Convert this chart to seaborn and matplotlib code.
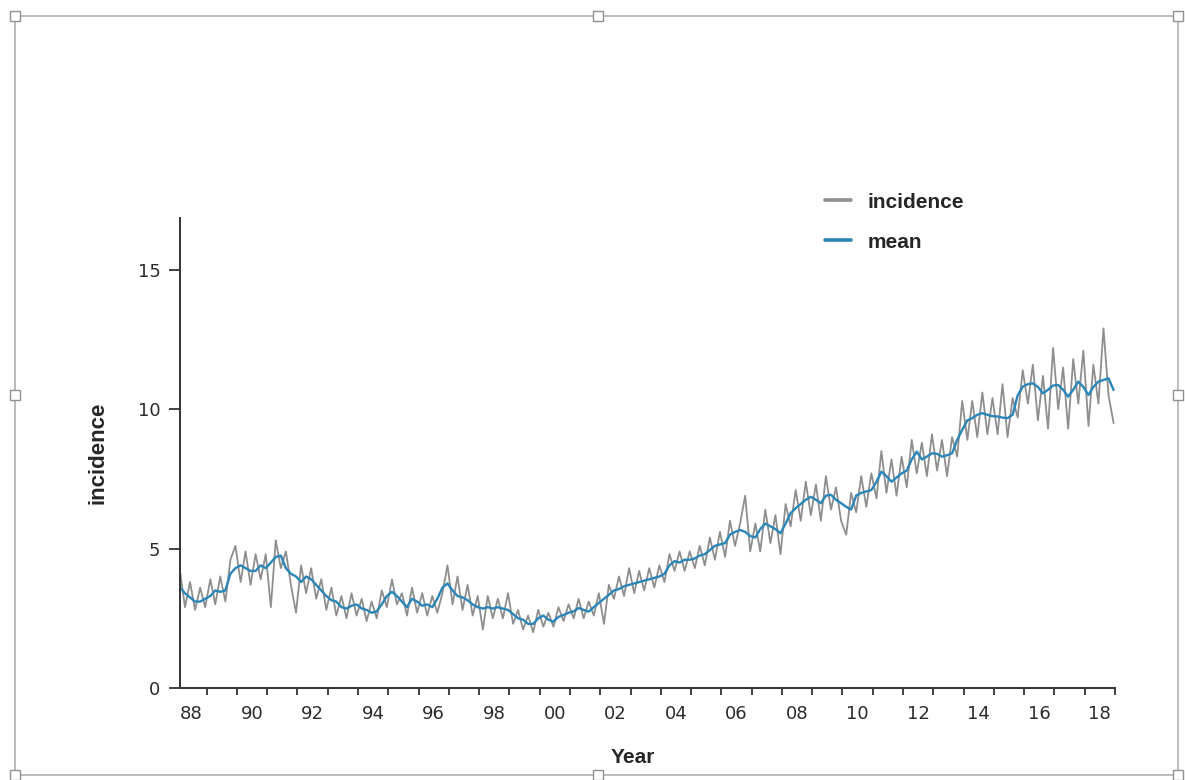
import numpy as np
import pandas as pd
import matplotlib.pyplot as plt
import matplotlib.dates as mdates
from matplotlib.patches import Rectangle
from matplotlib.lines import Line2D
import seaborn as sns

# bimonthly readings, Feb 1988 .. Dec 2018 (6 values per year)
incidence = [
    4.2, 2.9, 3.8, 2.8, 3.6, 2.9,    # 1988
    3.9, 3.0, 4.0, 3.1, 4.6, 5.1,    # 1989
    3.8, 4.9, 3.7, 4.8, 3.9, 4.8,    # 1990
    2.9, 5.3, 4.3, 4.9, 3.7, 2.7,    # 1991
    4.4, 3.4, 4.3, 3.2, 3.9, 2.8,    # 1992
    3.6, 2.6, 3.3, 2.5, 3.4, 2.6,    # 1993
    3.2, 2.4, 3.1, 2.5, 3.5, 2.9,    # 1994
    3.9, 3.0, 3.4, 2.6, 3.6, 2.7,    # 1995
    3.4, 2.6, 3.3, 2.7, 3.4, 4.4,    # 1996
    3.0, 4.0, 2.8, 3.7, 2.6, 3.3,    # 1997
    2.1, 3.3, 2.5, 3.2, 2.5, 3.4,    # 1998
    2.3, 2.8, 2.1, 2.6, 2.0, 2.8,    # 1999
    2.2, 2.7, 2.2, 2.9, 2.4, 3.0,    # 2000
    2.5, 3.2, 2.5, 3.1, 2.6, 3.4,    # 2001
    2.3, 3.7, 3.2, 4.0, 3.3, 4.3,    # 2002
    3.4, 4.2, 3.5, 4.3, 3.6, 4.4,    # 2003
    3.8, 4.8, 4.2, 4.9, 4.2, 4.9,    # 2004
    4.3, 5.1, 4.4, 5.4, 4.6, 5.6,    # 2005
    4.7, 6.0, 5.1, 5.9, 6.9, 4.9,    # 2006
    5.9, 4.9, 6.4, 5.2, 6.2, 4.8,    # 2007
    6.6, 5.8, 7.1, 6.0, 7.4, 6.2,    # 2008
    7.3, 6.0, 7.6, 6.4, 7.2, 6.0,    # 2009
    5.5, 7.0, 6.3, 7.6, 6.5, 7.7,    # 2010
    6.8, 8.5, 7.0, 8.2, 6.9, 8.3,    # 2011
    7.2, 8.9, 7.7, 8.8, 7.6, 9.1,    # 2012
    7.8, 8.9, 7.6, 9.0, 8.3, 10.3,   # 2013
    8.9, 10.3, 9.0, 10.6, 9.1, 10.4, # 2014
    9.1, 10.9, 9.0, 10.4, 9.7, 11.4, # 2015
    10.2, 11.6, 9.6, 11.2, 9.3, 12.2,  # 2016
    10.0, 11.5, 9.3, 11.8, 10.2, 12.1, # 2017
    9.4, 11.6, 10.2, 12.9, 10.5, 9.5,  # 2018
]

mean = [
    3.6, 3.4, 3.25, 3.1, 3.1, 3.2,
    3.3, 3.5, 3.45, 3.5, 4.1, 4.3,
    4.4, 4.3, 4.2, 4.2, 4.4, 4.3,
    4.5, 4.7, 4.75, 4.3, 4.1, 4.0,
    3.8, 4.0, 3.9, 3.7, 3.5, 3.3,
    3.15, 3.1, 2.9, 2.85, 2.95, 3.0,
    2.85, 2.8, 2.7, 2.75, 3.0, 3.3,
    3.45, 3.3, 3.1, 2.9, 3.2, 3.1,
    2.95, 3.0, 2.9, 3.2, 3.6, 3.75,
    3.5, 3.3, 3.25, 3.15, 3.0, 2.9,
    2.85, 2.9, 2.85, 2.9, 2.85, 2.8,
    2.65, 2.5, 2.45, 2.3, 2.3, 2.5,
    2.6, 2.45, 2.38, 2.55, 2.62, 2.7,
    2.75, 2.87, 2.8, 2.74, 2.9, 3.05,
    3.2, 3.34, 3.5, 3.55, 3.65, 3.7,
    3.75, 3.8, 3.85, 3.9, 3.95, 4.0,
    4.1, 4.4, 4.55, 4.5, 4.6, 4.6,
    4.65, 4.75, 4.8, 4.95, 5.1, 5.15,
    5.2, 5.5, 5.6, 5.67, 5.6, 5.45,
    5.4, 5.7, 5.9, 5.8, 5.7, 5.55,
    5.9, 6.27, 6.45, 6.6, 6.75, 6.86,
    6.75, 6.63, 6.9, 6.93, 6.75, 6.63,
    6.5, 6.4, 6.9, 7.0, 7.05, 7.1,
    7.4, 7.76, 7.6, 7.4, 7.55, 7.7,
    7.8, 8.2, 8.48, 8.2, 8.3, 8.42,
    8.4, 8.3, 8.35, 8.42, 8.9, 9.26,
    9.6, 9.68, 9.8, 9.86, 9.8, 9.75,
    9.74, 9.7, 9.68, 9.8, 10.5, 10.81,
    10.9, 10.93, 10.8, 10.57, 10.7, 10.85,
    10.87, 10.7, 10.45, 10.7, 10.99, 10.8,
    10.51, 10.8, 10.99, 11.05, 11.11, 10.69,
]

series_names = ["incidence", "mean"]
series_colors = {"incidence": "#8e8e8e", "mean": "#2a86b9"}
y_ticks = [0, 5, 10, 15]

dates = pd.date_range("1988-02-01", periods=len(incidence), freq="2MS") + pd.Timedelta(days=14)
df = pd.DataFrame({"date": dates, "incidence": incidence, "mean": mean})
long_df = df.melt(id_vars="date", value_vars=series_names, var_name="series", value_name="value")

sns.set_style("ticks")
plt.rcParams["font.family"] = ["DejaVu Sans"]
bold_font = ["Liberation Sans", "DejaVu Sans"]

fig = plt.figure(figsize=(11.85, 7.8), dpi=100)
ax = fig.add_axes([180 / 1185, 92 / 780, 935 / 1185, 470 / 780])

sns.lineplot(
    data=long_df, x="date", y="value", hue="series",
    palette=series_colors, ax=ax, legend=False,
)
for line, lw in zip(ax.get_lines(), [1.3, 1.7]):
    line.set_linewidth(lw)

ax.set_xlim(dates[0], pd.Timestamp("2019-01-01"))
ax.set_ylim(0, 16.86)
ax.set_yticks(y_ticks)

ax.xaxis.set_major_locator(mdates.YearLocator(1))
ax.xaxis.set_major_formatter(plt.NullFormatter())
ax.xaxis.set_minor_locator(mdates.YearLocator(2, month=7, day=1))
ax.xaxis.set_minor_formatter(mdates.DateFormatter("%y"))
ax.tick_params(axis="x", which="major", length=5, width=1.3, color="#333333")
ax.tick_params(axis="x", which="minor", length=0, pad=12, labelsize=13, labelcolor="#2b2b2b")
ax.tick_params(axis="y", length=8, width=1.3, pad=6, labelsize=13, labelcolor="#2b2b2b", color="#333333")

sns.despine(ax=ax)
for side in ["left", "bottom"]:
    ax.spines[side].set_linewidth(1.4)
    ax.spines[side].set_color("#333333")

ax.set_xlabel("Year", fontsize=15, fontweight="bold", family=bold_font)
ax.set_ylabel("incidence", fontsize=16, fontweight="bold", family=bold_font)
ax.xaxis.set_label_coords(0.4845, -0.128)
ax.yaxis.set_label_coords(-0.077, 0.5)

handles = [Line2D([], [], color=series_colors[s], lw=2.6) for s in series_names]
fig.legend(
    handles, series_names, loc="upper left", bbox_to_anchor=(806 / 1185, 1 - 174 / 780),
    frameon=False, handlelength=1.25, handletextpad=0.8, labelspacing=1.0,
    prop={"family": bold_font, "weight": "bold", "size": 15},
)

# outer selection frame of the embedded chart
fig.patches.append(Rectangle((15 / 1185, 1 - 775 / 780), 1163 / 1185, 759 / 780,
                             transform=fig.transFigure, fill=False, ec="#b0b0b0", lw=1.2))
for hx, hy in [(15, 16), (598, 16), (1178, 16), (15, 395), (1178, 395),
               (15, 775), (598, 775), (1178, 775)]:
    fig.patches.append(Rectangle(((hx - 5) / 1185, 1 - (hy + 5) / 780), 10 / 1185, 10 / 780,
                                 transform=fig.transFigure, fc="white", ec="#909090", lw=1.0))

fig.savefig("out.png", dpi=100, facecolor="white")
